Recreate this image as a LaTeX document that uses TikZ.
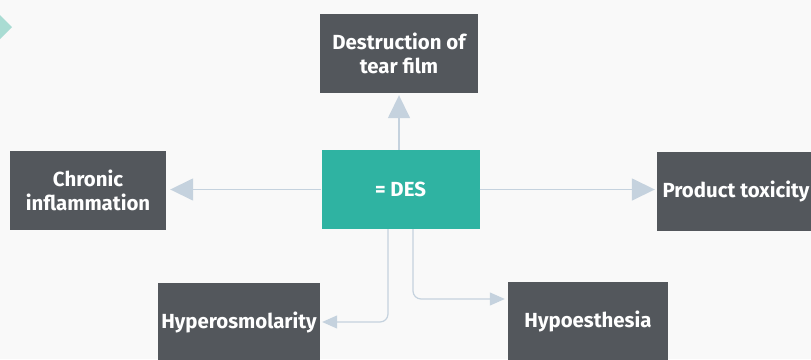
\documentclass[tikz,border=0pt]{standalone}
\usepackage{fontspec}
\setmainfont{Fira Sans}
\usetikzlibrary{arrows.meta}

\definecolor{boxgray}{HTML}{53575C}
\definecolor{desteal}{HTML}{2FB3A2}
\definecolor{linkblue}{HTML}{C5D2DE}
\definecolor{pagebg}{HTML}{F9F9F9}
\definecolor{chevteal}{HTML}{A9DCD3}

\tikzset{
  cause/.style={fill=boxgray, text=white, align=center, inner sep=0pt,
    minimum width=158pt, minimum height=79pt,
    font=\bfseries\fontsize{20.4}{24}\selectfont},
  centre/.style={cause, fill=desteal},
  bigarrow/.style={draw=linkblue, line width=1.6pt,
    -{Triangle[width=22pt,length=23pt]}},
  smallarrow/.style={draw=linkblue, line width=1.2pt, rounded corners=8pt,
    -{Triangle[width=13pt,length=15pt]}}
}

\begin{document}
\begin{tikzpicture}[x=1pt,y=-1pt]

  % Page background, same size as the image
  \useasboundingbox (0,0) rectangle (811,359);
  \fill[pagebg] (0,0) rectangle (811,359);
  \clip (0,0) rectangle (811,359);

  % Small chevron in the top left corner
  \fill[chevteal] (0,15) -- (12,27) -- (0,39) -- cycle;

  % The boxes, placed at the positions of the image
  \node[centre] (des) at (400.5,189.5) {= DES};
  \node[cause] (tear) at (399,53.5) {Destruction of\\tear film};
  \node[cause, minimum width=156pt] (chronic) at (88,190.5) {Chronic\\inflammation};
  \node[cause] (toxicity) at (736,191) {Product toxicity};
  \node[cause, minimum width=162pt] (hyper) at (239,322) {Hyperosmolarity};
  \node[cause, minimum width=160pt] (hypo) at (588,321) {Hypoesthesia};

  % Straight arrows out of the centre box
  \draw[bigarrow, shorten >=2pt] (tear.south |- des.north) -- (tear.south);
  \draw[bigarrow, shorten >=4pt] (des.west) -- (des.west -| chronic.east);
  \draw[bigarrow, shorten >=2pt] (des.east) -- (des.east -| toxicity.west);

  % Bent arrows to the two lower boxes
  \draw[smallarrow, shorten >=2pt] ([xshift=-12.5pt]des.south) |- (hyper.east);
  \draw[smallarrow, shorten >=3pt] ([xshift=12.5pt]des.south) |- ([yshift=22pt]hypo.west);

\end{tikzpicture}
\end{document}
